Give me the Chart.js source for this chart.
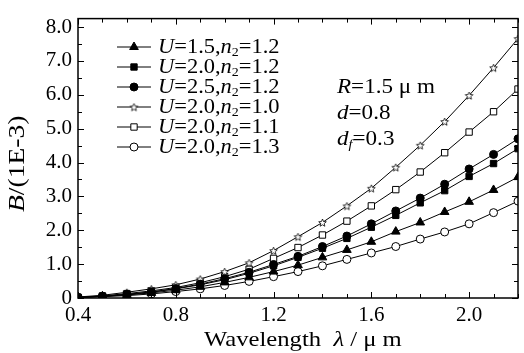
<!DOCTYPE html>
<html>
<head>
<meta charset="utf-8">
<script src="https://cdn.jsdelivr.net/npm/chart.js@4.4.1/dist/chart.umd.min.js"></script>
<style>
html, body { margin: 0; padding: 0; background: #fff; }
#wrap { width: 524px; height: 353px; }
</style>
</head>
<body>
<div id="wrap"><canvas id="chart" width="524" height="353"></canvas></div>
<script>
// wavelength in um, B in units of 1E-3
var wavelength = [0.4, 0.5, 0.6, 0.7, 0.8, 0.9, 1.0, 1.1, 1.2, 1.3, 1.4, 1.5, 1.6, 1.7, 1.8, 1.9, 2.0, 2.1, 2.2]
var b_u15_n12 = [0.02, 0.05, 0.09, 0.15, 0.23, 0.33, 0.46, 0.61, 0.78, 0.97, 1.20, 1.42, 1.66, 1.96, 2.23, 2.54, 2.84, 3.19, 3.57]
var b_u20_n12 = [0.02, 0.05, 0.10, 0.17, 0.27, 0.39, 0.54, 0.73, 0.95, 1.20, 1.47, 1.76, 2.09, 2.44, 2.81, 3.17, 3.59, 3.97, 4.41]
var b_u25_n12 = [0.02, 0.05, 0.11, 0.18, 0.28, 0.41, 0.57, 0.76, 0.99, 1.23, 1.52, 1.83, 2.19, 2.57, 2.95, 3.36, 3.81, 4.24, 4.70]
var b_u20_n10 = [0.03, 0.08, 0.17, 0.27, 0.39, 0.56, 0.78, 1.04, 1.40, 1.81, 2.23, 2.72, 3.24, 3.86, 4.51, 5.21, 5.98, 6.80, 7.66]
var b_u20_n11 = [0.02, 0.06, 0.13, 0.21, 0.31, 0.45, 0.63, 0.85, 1.17, 1.49, 1.86, 2.27, 2.72, 3.20, 3.72, 4.29, 4.90, 5.50, 6.17]
var b_u20_n13 = [0.01, 0.04, 0.07, 0.12, 0.19, 0.27, 0.37, 0.49, 0.63, 0.78, 0.95, 1.14, 1.33, 1.52, 1.74, 1.95, 2.19, 2.52, 2.86]

var x_ticks = [0.4, 0.8, 1.2, 1.6, 2.0]
var y_ticks = [0, 1, 2, 3, 4, 5, 6, 7, 8]

// legend labels: [text, style]  style: n normal, i italic, s subscript
var legend_labels = [
    [["U", "i"], ["=1.5,", "n"], ["n", "i"], ["2", "s"], ["=1.2", "n"]],
    [["U", "i"], ["=2.0,", "n"], ["n", "i"], ["2", "s"], ["=1.2", "n"]],
    [["U", "i"], ["=2.5,", "n"], ["n", "i"], ["2", "s"], ["=1.2", "n"]],
    [["U", "i"], ["=2.0,", "n"], ["n", "i"], ["2", "s"], ["=1.0", "n"]],
    [["U", "i"], ["=2.0,", "n"], ["n", "i"], ["2", "s"], ["=1.1", "n"]],
    [["U", "i"], ["=2.0,", "n"], ["n", "i"], ["2", "s"], ["=1.3", "n"]]
]
var note_lines = [
    [["R", "i"], ["=1.5 \u03bc m", "n"]],
    [["d", "i"], ["=0.8", "n"]],
    [["d", "i"], ["f", "si"], ["=0.3", "n"]]
]

var FONT = "'Liberation Serif', 'Times New Roman', serif"

// open star marker
function make_star(r){
    var c = document.createElement("canvas")
    var s = Math.ceil(r * 2 + 3)
    c.width = s
    c.height = s
    var g = c.getContext("2d")
    g.translate(s / 2, s / 2 + 0.5)
    g.beginPath()
    for(var i = 0; i < 10; i++){
        var rr = i % 2 === 0 ? r : r * 0.45
        var a = -Math.PI / 2 + i * Math.PI / 5
        g.lineTo(rr * Math.cos(a), rr * Math.sin(a))
    }
    g.closePath()
    g.fillStyle = "#fff"
    g.fill()
    g.strokeStyle = "#000"
    g.lineWidth = 0.8
    g.stroke()
    return c
}
var star_img = make_star(4)

function pts(values){
    return values.map(function(v, i){ return {x: wavelength[i], y: v} })
}

function series(values, style, radius, fill){
    return {
        data: pts(values),
        borderColor: "#000",
        borderWidth: 1,
        pointStyle: style,
        pointRadius: radius,
        pointBackgroundColor: fill,
        pointBorderColor: "#000",
        pointBorderWidth: 1,
        tension: 0
    }
}

var datasets = [
    series(b_u15_n12, "triangle", 5, "#000"),
    series(b_u20_n12, "rect", 4.5, "#000"),
    series(b_u25_n12, "circle", 4, "#000"),
    series(b_u20_n10, star_img, 4, "#fff"),
    series(b_u20_n11, "rect", 4.5, "#fff"),
    series(b_u20_n13, "circle", 4, "#fff")
]

// draws mixed italic / subscript text, sx stretches it sideways like the scan
function draw_rich(ctx, parts, x, y, size, sx){
    sx = sx || 1
    ctx.textBaseline = "middle"
    ctx.textAlign = "left"
    parts.forEach(function(p){
        var st = p[1]
        var fs = size
        var dy = 0
        var italic = st === "i" || st === "si"
        if(st === "s" || st === "si"){
            fs = size * 0.62
            dy = size * 0.28
        }
        ctx.font = (italic ? "italic " : "") + fs + "px " + FONT
        ctx.save()
        ctx.translate(x, y + dy)
        ctx.scale(sx, 1)
        ctx.fillText(p[0], 0, 0)
        ctx.restore()
        x += ctx.measureText(p[0]).width * sx
    })
    return x
}

var decorations = {
    id: "decorations",
    afterDraw: function(chart){
        var ctx = chart.ctx
        var a = chart.chartArea
        var xs = chart.scales.x
        var ys = chart.scales.y
        ctx.save()
        ctx.strokeStyle = "#000"
        ctx.fillStyle = "#000"

        // frame
        ctx.lineWidth = 1.5
        ctx.strokeRect(a.left, a.top, a.right - a.left, a.bottom - a.top)

        // inward ticks
        ctx.lineWidth = 1
        ctx.beginPath()
        wavelength.forEach(function(w, i){
            var px = Math.round(xs.getPixelForValue(w)) + 0.5
            var len = (i % 4 === 0) ? 6 : 4
            ctx.moveTo(px, a.bottom); ctx.lineTo(px, a.bottom - len)
            ctx.moveTo(px, a.top); ctx.lineTo(px, a.top + len)
        })
        for(var k = 0; k <= 16; k++){
            var py = Math.round(ys.getPixelForValue(k * 0.5)) + 0.5
            var len = (k % 2 === 0) ? 6 : 4
            ctx.moveTo(a.left, py); ctx.lineTo(a.left + len, py)
            ctx.moveTo(a.right, py); ctx.lineTo(a.right - len, py)
        }
        ctx.stroke()

        // legend
        var lx = 117, ly = 47, step = 20
        datasets.forEach(function(ds, i){
            var y = ly + i * step
            ctx.lineWidth = 1
            ctx.beginPath()
            ctx.moveTo(lx, y); ctx.lineTo(lx + 34, y)
            ctx.stroke()
            ctx.fillStyle = ds.pointBackgroundColor
            Chart.helpers.drawPoint(ctx, {
                pointStyle: ds.pointStyle, radius: ds.pointRadius, rotation: 0, borderWidth: 1
            }, lx + 17, y)
            ctx.fillStyle = "#000"
            draw_rich(ctx, legend_labels[i], lx + 41, y, 21, 1.07)
        })

        // parameters
        note_lines.forEach(function(line, i){
            draw_rich(ctx, line, 337, 87 + i * 26, 21, 1.1)
        })

        // axis titles
        draw_rich(ctx, [["Wavelength  ", "n"], ["\u03bb", "i"], [" / \u03bc m", "n"]], 204, 340, 22, 1.12)
        ctx.translate(18, 163)
        ctx.rotate(-Math.PI / 2)
        ctx.font = "23px " + FONT
        var w = ctx.measureText("B/(1E-3)").width * 1.2
        draw_rich(ctx, [["B", "i"], ["/(1E-3)", "n"]], -w / 2, 0, 23, 1.2)
        ctx.restore()
    }
}

new Chart(document.getElementById("chart"), {
    type: "line",
    data: {datasets: datasets},
    options: {
        responsive: false,
        animation: false,
        layout: {padding: {left: 0, right: 5, top: 11, bottom: 0}},
        plugins: {legend: {display: false}, tooltip: {enabled: false}},
        scales: {
            x: {
                type: "linear",
                min: 0.4,
                max: 2.2,
                afterBuildTicks: function(s){ s.ticks = x_ticks.map(function(v){ return {value: v} }) },
                afterFit: function(s){ s.height = 55 },
                grid: {display: false, drawTicks: false},
                border: {display: false},
                ticks: {
                    color: "#000",
                    padding: 5,
                    font: {family: FONT, size: 21},
                    callback: function(v){ return v.toFixed(1) }
                }
            },
            y: {
                min: 0,
                max: 8.25,
                afterBuildTicks: function(s){ s.ticks = y_ticks.map(function(v){ return {value: v} }) },
                afterFit: function(s){ s.width = 78 },
                grid: {display: false, drawTicks: false},
                border: {display: false},
                ticks: {
                    color: "#000",
                    padding: 6,
                    font: {family: FONT, size: 21},
                    callback: function(v){ return v === 0 ? "0" : v.toFixed(1) }
                }
            }
        }
    },
    plugins: [decorations]
})
</script>
</body>
</html>
